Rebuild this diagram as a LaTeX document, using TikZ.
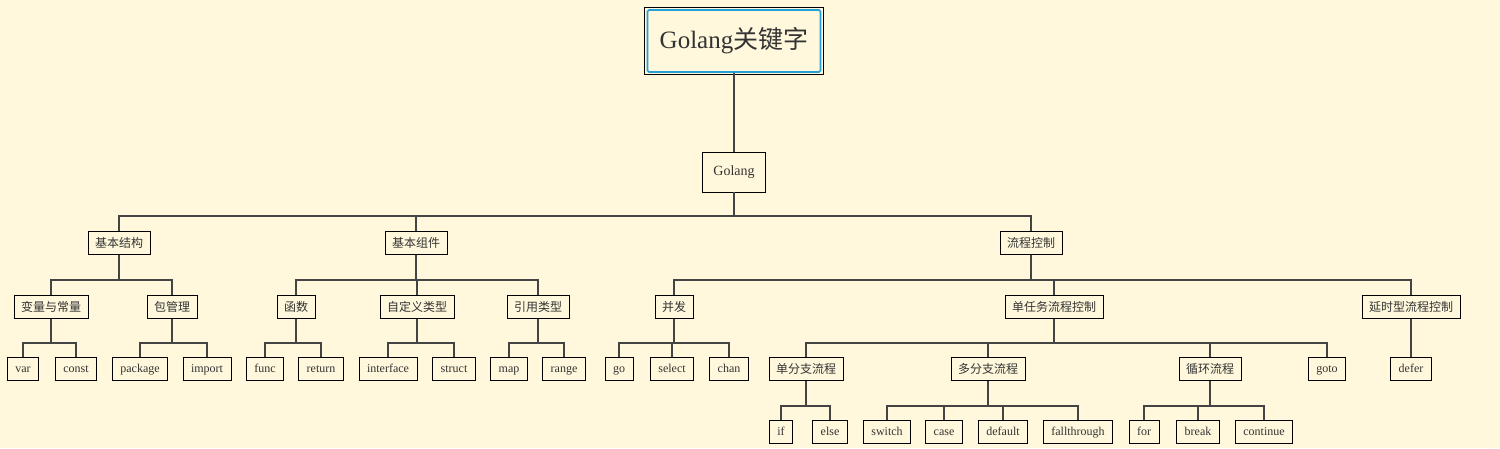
\documentclass[tikz,border=0pt]{standalone}
\usepackage{fontspec}
\setmainfont{Liberation Serif}
\newfontfamily\cjk{Noto Sans CJK SC}
\usetikzlibrary{positioning}
\definecolor{paper}{RGB}{255,248,220}
\definecolor{ink}{RGB}{51,51,51}
\definecolor{wirecol}{RGB}{68,68,68}
\definecolor{rootblue}{RGB}{35,160,215}
\tikzset{
  kw/.style={draw=black, line width=0.7pt, fill=paper, text=ink,
    font=\fontsize{12}{14}\selectfont, minimum height=23pt,
    text height=9pt, text depth=3pt, inner xsep=8pt, inner ysep=0pt},
  cat/.style={kw, font=\fontsize{12}{14}\selectfont\cjk, inner xsep=7pt,
    text height=10pt, text depth=1.5pt},
  wire/.style={draw=wirecol, line width=2.2pt},
}

\begin{document}
\begin{tikzpicture}[x=1pt, y=-1pt]
  \fill[paper] (0,0) rectangle (1500,448);
  \useasboundingbox (0,0) rectangle (1500,448);

  % root and Golang
  \node[draw=rootblue, line width=1.6pt, rounded corners=1.5pt, fill=paper, text=ink,
    minimum width=173pt, minimum height=62pt, font=\fontsize{25}{30}\selectfont]
    (root) at (734,41) {Golang{\cjk 关键字}};
  \draw[line width=0.8pt] ([shift={(-2pt,2pt)}]root.north west) rectangle ([shift={(2pt,-2pt)}]root.south east);
  \node[kw, minimum height=40pt, inner xsep=11pt, font=\fontsize{14}{16}\selectfont,
    text height=10pt, text depth=3pt] (golang) at (734,172) {Golang};
  \draw[wire, line width=2.6pt] (root) -- (golang);

  % categories
  \foreach \n/\x/\t in {jbjg/119/基本结构, jbzj/416/基本组件, lckz/1031/流程控制}
    \node[cat] (\n) at (\x,243) {\t};
  \foreach \n/\x/\t in {blcl/51/变量与常量, bgl/172/包管理, hs/296/函数, zdylx/417/自定义类型,
      yylx/538/引用类型, bf/674/并发, drwlc/1054/单任务流程控制, ysxlc/1411/延时型流程控制}
    \node[cat] (\n) at (\x,307) {\t};
  \foreach \n/\x/\t in {dfzlc/806/单分支流程, mfzlc/988/多分支流程, xhlc/1210/循环流程}
    \node[cat] (\n) at (\x,369) {\t};

  % keywords
  \foreach \n/\x in {var/23, const/76, package/140, import/207, func/265, return/321,
      interface/388, struct/454, map/509, range/564, go/619, select/672, chan/729,
      goto/1327, defer/1411}
    \node[kw] (k-\n) at (\x,369) {\n};
  \foreach \n/\x in {if/781, else/830, switch/887, case/944, default/1003,
      fallthrough/1078, for/1144, break/1198, continue/1264}
    \node[kw] (k-\n) at (\x,432) {\n};

  % connectors
  \foreach \p/\c/\y in {golang/jbjg/216, golang/jbzj/216, golang/lckz/216,
      jbjg/blcl/280, jbjg/bgl/280, jbzj/hs/280, jbzj/zdylx/280, jbzj/yylx/280,
      lckz/bf/280, lckz/drwlc/280, lckz/ysxlc/280,
      blcl/k-var/343, blcl/k-const/343, bgl/k-package/343, bgl/k-import/343,
      hs/k-func/343, hs/k-return/343, zdylx/k-interface/343, zdylx/k-struct/343,
      yylx/k-map/343, yylx/k-range/343, bf/k-go/343, bf/k-select/343, bf/k-chan/343,
      drwlc/dfzlc/343, drwlc/mfzlc/343, drwlc/xhlc/343, drwlc/k-goto/343,
      ysxlc/k-defer/343,
      dfzlc/k-if/406, dfzlc/k-else/406, mfzlc/k-switch/406, mfzlc/k-case/406,
      mfzlc/k-default/406, mfzlc/k-fallthrough/406,
      xhlc/k-for/406, xhlc/k-break/406, xhlc/k-continue/406}
    \draw[wire] (\p.south) -- (\p.south |- 0,\y) -| (\c.north);
\end{tikzpicture}
\end{document}
